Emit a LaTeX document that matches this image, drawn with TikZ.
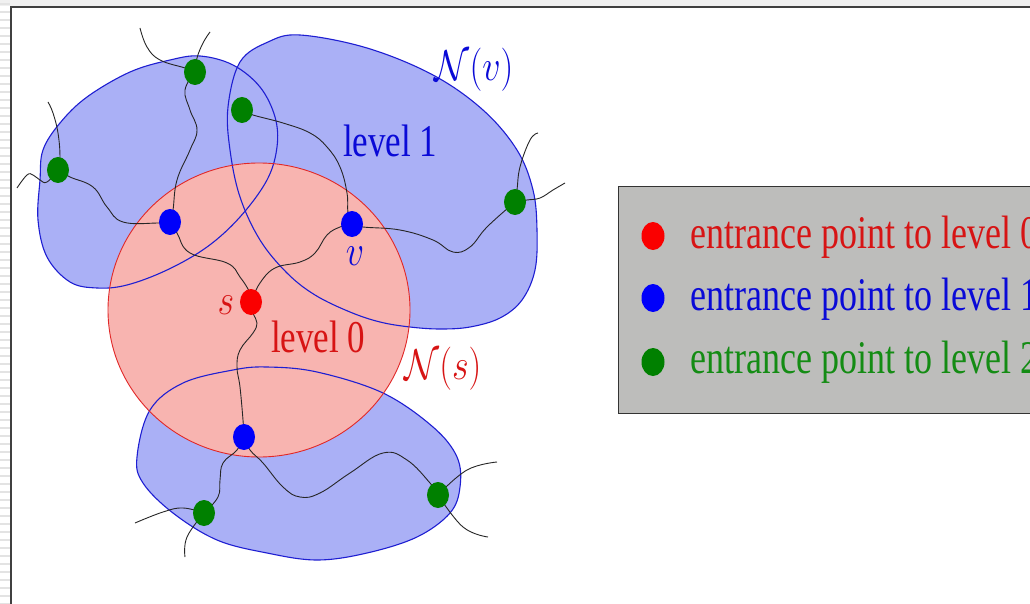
\RequirePackage{fix-cm}
\documentclass[tikz,border=0pt]{standalone}
\usepackage{fontspec}
\setmainfont{Liberation Serif}
\usetikzlibrary{shapes.geometric}
\pgfdeclarelayer{bg}\pgfdeclarelayer{edges}\pgfdeclarelayer{mid}
\pgfsetlayers{bg,edges,mid,main}
\definecolor{blobblue}{RGB}{170,176,246}
\definecolor{blobred}{RGB}{248,180,176}
\definecolor{edgeblue}{RGB}{30,30,210}
\definecolor{edgered}{RGB}{225,40,40}
\definecolor{dotred}{RGB}{250,0,0}
\definecolor{dotblue}{RGB}{0,0,250}
\definecolor{dotgreen}{RGB}{0,128,0}
\definecolor{legendgray}{RGB}{189,189,187}
\definecolor{txtred}{RGB}{215,20,20}
\definecolor{txtblue}{RGB}{10,10,215}
\definecolor{txtgreen}{RGB}{20,140,20}
\newcommand\vstretch[1]{\scalebox{1}[1.3]{#1}}
\newcommand\mstretch[1]{\scalebox{1}[1.2]{#1}}
\begin{document}
\begin{tikzpicture}[x=1pt,y=-1pt,
  dotnode/.style={ellipse, minimum width=22pt, minimum height=26pt, inner sep=0pt},
  rdot/.style={dotnode, fill=dotred},
  bdot/.style={dotnode, fill=dotblue},
  gdot/.style={dotnode, fill=dotgreen},
  wire/.style={black!85, line width=0.9pt},
  lbl/.style={inner sep=0pt, font=\fontsize{35}{40}\selectfont},
  mlbl/.style={inner sep=0pt, font=\fontsize{36}{40}\selectfont},
  leg/.style={inner sep=0pt, anchor=base west, font=\fontsize{36}{40}\selectfont},
  blueedge/.style={draw=edgeblue, line width=1.1pt},
  rededge/.style={draw=edgered, line width=0.9pt}]
\useasboundingbox (0,0) rectangle (1030,604);
\clip (0,0) rectangle (1030,604);
\begin{pgfonlayer}{bg}
\fill[white] (0,0) rectangle (1030,604);
\end{pgfonlayer}
% page frame
\fill[gray!12] (0,0) rectangle (1030,6);
\foreach \yy in {3,11,...,603} \fill[gray!22] (0,\yy) rectangle (10,\yy+2);
\draw[line width=2pt, black!75] (11,604) -- (11,7) -- (1030,7);

% blobs
\path[save path=\blobA] plot[smooth cycle, tension=0.6] coordinates {(40,180) (43,150) (60,123) (87,97) (130,72) (170,60) (200,56) (233,65) (260,87) (275,117) (277,147) (267,180) (240,217) (207,247) (167,270) (127,285) (97,288) (70,282) (47,257) (38,220)};
\path[save path=\blobB] plot[smooth cycle, tension=0.6] coordinates {(300,35) (367,48) (433,75) (483,110) (517,150) (533,190) (537,230) (535,270) (522,300) (500,318) (470,327) (440,329) (410,327) (380,322) (350,312) (315,295) (287,273) (260,240) (240,197) (230,150) (228,107) (240,62) (268,42)};
\path[save path=\blobC] plot[smooth cycle, tension=0.6] coordinates {(137,457) (150,410) (183,383) (233,370) (267,367) (317,372) (383,393) (433,427) (457,457) (460,487) (450,513) (417,537) (367,553) (317,560) (267,553) (217,540) (173,513) (143,483)};
\begin{pgfonlayer}{bg}
\fill[blobblue, use path=\blobA];
\fill[blobblue, use path=\blobB];
\fill[blobblue, use path=\blobC];
\fill[blobred] (259,310) ellipse [x radius=151, y radius=147];
\end{pgfonlayer}
\begin{pgfonlayer}{edges}
\path[blueedge, use path=\blobA];
\path[blueedge, use path=\blobB];
\path[blueedge, use path=\blobC];
\draw[rededge] (259,310) ellipse [x radius=151, y radius=147];
\end{pgfonlayer}

% entrance points
\node[rdot] (s) at (251,302) {};
\node[bdot] (a1) at (170,222) {};
\node[bdot] (v) at (352,224) {};
\node[bdot] (b) at (244,437) {};
\node[gdot] (g1) at (58,170) {};
\node[gdot] (g2) at (195,72) {};
\node[gdot] (g3) at (242,110) {};
\node[gdot] (g4) at (515,202) {};
\node[gdot] (g5) at (204,513) {};
\node[gdot] (g6) at (438,495) {};

% paths
\begin{pgfonlayer}{mid}
\draw[wire] plot[smooth, tension=0.7] coordinates {(s) (250,293) (240,277) (227,263) (190,253) (177,233) (a1)};
\draw[wire] plot[smooth, tension=0.7] coordinates {(s) (260,283) (275,268) (300,262) (315,253) (327,235) (340,227) (v)};
\draw[wire] plot[smooth, tension=0.7] coordinates {(s) (253,313) (257,323) (253,333) (240,350) (237,367) (240,387) (243,420) (b)};
\draw[wire] plot[smooth, tension=0.7] coordinates {(a1) (158,223) (123,222) (107,207) (93,187) (70,177) (g1)};
\draw[wire] plot[smooth, tension=0.7] coordinates {(a1) (173,210) (177,180) (190,150) (197,130) (190,110) (185,90) (g2)};
\draw[wire] plot[smooth, tension=0.7] coordinates {(g2) (185,68) (160,60) (147,47) (140,28)};
\draw[wire] plot[smooth, tension=0.7] coordinates {(g2) (197,58) (203,43) (210,32)};
\draw[wire] plot[smooth, tension=0.7] coordinates {(g1) (60,157) (58,133) (53,113) (48,102)};
\draw[wire] plot[smooth, tension=0.7] coordinates {(g1) (47,182) (40,180) (33,175) (27,175) (17,188)};
\draw[wire] plot[smooth, tension=0.7] coordinates {(g3) (253,115) (283,123) (310,133) (327,147) (340,167) (347,193) (348,213) (v)};
\draw[wire] plot[smooth, tension=0.7] coordinates {(v) (363,227) (400,230) (433,240) (453,252) (470,247) (487,227) (g4)};
\draw[wire] plot[smooth, tension=0.7] coordinates {(g4) (517,190) (520,167) (530,140) (538,133)};
\draw[wire] plot[smooth, tension=0.7] coordinates {(g4) (527,200) (540,198) (553,190) (565,183)};
\draw[wire] plot[smooth, tension=0.7] coordinates {(b) (237,450) (223,463) (220,480) (218,497) (g5)};
\draw[wire] plot[smooth, tension=0.7] coordinates {(b) (250,450) (263,463) (283,487) (300,497) (320,493) (350,473) (383,453) (407,460) (430,483) (g6)};
\draw[wire] plot[smooth, tension=0.7] coordinates {(g5) (183,508) (163,512) (135,523)};
\draw[wire] plot[smooth, tension=0.7] coordinates {(g5) (187,537) (185,557)};
\draw[wire] plot[smooth, tension=0.7] coordinates {(g6) (467,470) (497,462)};
\draw[wire] plot[smooth, tension=0.7] coordinates {(g6) (463,527) (488,537)};
\end{pgfonlayer}

% labels
\node[lbl, anchor=base west, text=txtblue] (l1) at (343,157) {\vstretch{level 1}};
\node[lbl, anchor=base west, text=txtred] (l0) at (271,352) {\vstretch{level 0}};
\node[mlbl, text=txtred] (slbl) at (226,305) {\mstretch{$s$}};
\node[mlbl, text=txtblue] (vlbl) at (355,256) {\mstretch{$v$}};
\node[mlbl, text=txtblue] (nv) at (474,70) {\mstretch{$\mathcal{N}(v)$}};
\node[mlbl, text=txtred] (ns) at (443,369) {\mstretch{$\mathcal{N}(s)$}};

% legend
\draw[fill=legendgray, draw=black!80, line width=1pt] (618,187) rectangle (1040,413);
\node[rdot, minimum width=23pt, minimum height=28pt] (lr) at (653,236) {};
\node[bdot, minimum width=23pt, minimum height=28pt] (lb) at (653,298) {};
\node[gdot, minimum width=23pt, minimum height=28pt] (lg) at (653,362) {};
\node[leg, text=txtred] (t0) at (690,248) {\vstretch{entrance point to level 0}};
\node[leg, text=txtblue] (t1) at (690,310) {\vstretch{entrance point to level 1}};
\node[leg, text=txtgreen] (t2) at (690,373) {\vstretch{entrance point to level 2}};
\end{tikzpicture}
\end{document}
